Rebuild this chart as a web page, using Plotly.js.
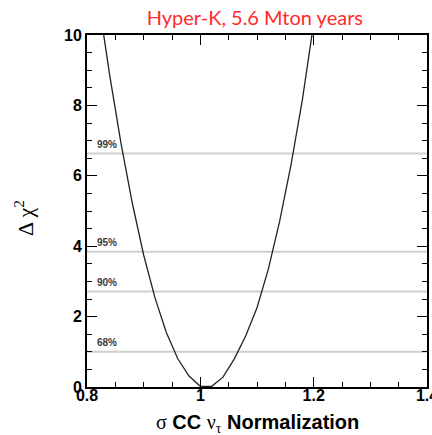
<!DOCTYPE html>
<html>
<head>
<meta charset="utf-8">
<script src="https://cdn.plot.ly/plotly-3.0.1.min.js"></script>
<style>
  html, body { margin: 0; padding: 0; background: #fff; }
  #chart { width: 432px; height: 435px; }
</style>
</head>
<body>
<div id="chart"></div>
<script>
// Δχ² scan versus the CC ν_τ cross-section normalization
var norm = [0.82, 0.84, 0.86, 0.88, 0.90, 0.92, 0.94, 0.96, 0.98, 1.00, 1.02,
            1.04, 1.06, 1.08, 1.10, 1.12, 1.14, 1.16, 1.18, 1.20, 1.22];
var deltaChi2 = [11.03, 8.86, 6.92, 5.22, 3.75, 2.53, 1.55, 0.81, 0.31, 0.02, 0.02,
                 0.28, 0.80, 1.45, 2.25, 3.35, 4.71, 6.31, 8.15, 10.22, 12.52];

// Confidence-level reference lines
var clLabels = ['99%', '95%', '90%', '68%'];
var clValues = [6.63, 3.84, 2.71, 1.0];

// Axis ticks
var xTickVals = [0.8, 1.0, 1.2, 1.4];
var xTickText = ['0.8', '1', '1.2', '1.4'];
var yTickVals = [0, 2, 4, 6, 8, 10];
var yTickText = ['0', '2', '4', '6', '8', '10'];

var xRange = [0.8, 1.4];
var yRange = [0, 10];

var xTitle = '<span style="font-family:Liberation Serif,serif">σ</span> <b>CC</b> ' +
             '<span style="font-family:Liberation Serif,serif">ν<sub>τ</sub></span> <b>Normalization</b>';
var yTitle = 'Δ χ<sup>2</sup>';

var traces = [];
clValues.forEach(function (v) {
  traces.push({
    x: xRange, y: [v, v], type: 'scatter', mode: 'lines',
    line: { color: '#cfcfcf', width: 2 }, hoverinfo: 'skip', showlegend: false
  });
});
traces.push({
  x: norm, y: deltaChi2, type: 'scatter', mode: 'lines',
  line: { color: '#222', width: 1.3 }, showlegend: false
});

var annotations = clLabels.map(function (lab, i) {
  return {
    x: xRange[0], y: clValues[i], xref: 'x', yref: 'y',
    text: '<b>' + lab + '</b>', showarrow: false, xanchor: 'left', yanchor: 'bottom',
    xshift: 8, yshift: 2,
    font: { family: 'Liberation Sans, Arial, sans-serif', size: 10, color: '#3a3a3a' }
  };
});

// Axis titles placed as paper-anchored annotations
annotations.push({
  x: 0.5, y: 0, xref: 'paper', yref: 'paper', text: xTitle, showarrow: false,
  xanchor: 'center', yanchor: 'middle', yshift: -36,
  font: { family: 'Liberation Sans, Arial, sans-serif', size: 20, color: '#000' }
});
annotations.push({
  x: 0, y: 0.5, xref: 'paper', yref: 'paper', text: yTitle, showarrow: false,
  textangle: -90, xanchor: 'center', yanchor: 'middle', xshift: -63, yshift: -7,
  font: { family: 'Liberation Serif, serif', size: 22, color: '#000' }
});

var tickFont = { family: 'Liberation Sans, Arial, sans-serif', size: 16, color: '#000', weight: 'bold' };

var layout = {
  width: 432, height: 435,
  margin: { l: 87, r: 5, t: 35, b: 48 },
  paper_bgcolor: '#fff', plot_bgcolor: '#fff',
  title: {
    text: 'Hyper-K, 5.6 Mton years',
    font: { family: 'Lato, Open Sans, sans-serif', size: 20, color: '#ff2b2b' },
    x: 0.59, xanchor: 'center', y: 0.958, yanchor: 'middle'
  },
  xaxis: {
    range: xRange, tickvals: xTickVals, ticktext: xTickText,
    ticks: 'inside', ticklen: 10, tickwidth: 1.2, tickcolor: '#000',
    minor: { dtick: 0.05, tick0: 0.8, ticks: 'inside', ticklen: 5, tickwidth: 1, tickcolor: '#000' },
    mirror: 'allticks', showline: true, linecolor: '#000', linewidth: 2,
    showgrid: false, zeroline: false, tickfont: tickFont,
    ticklabeloverflow: 'allow', ticklabelstandoff: -7,
    automargin: false
  },
  yaxis: {
    range: yRange, tickvals: yTickVals, ticktext: yTickText,
    ticks: 'inside', ticklen: 10, tickwidth: 1.2, tickcolor: '#000',
    minor: { dtick: 0.5, tick0: 0, ticks: 'inside', ticklen: 5, tickwidth: 1, tickcolor: '#000' },
    mirror: 'allticks', showline: true, linecolor: '#000', linewidth: 2,
    showgrid: false, zeroline: false, tickfont: tickFont,
    automargin: false
  },
  annotations: annotations
};

Plotly.newPlot('chart', traces, layout, { displayModeBar: false, staticPlot: true });
</script>
</body>
</html>
